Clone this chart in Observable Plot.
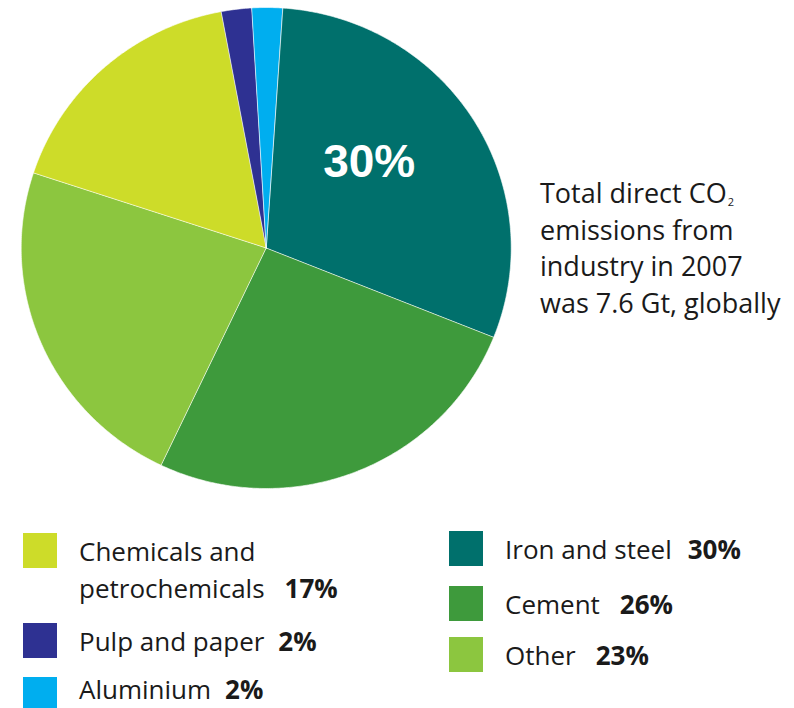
<!DOCTYPE html>
<html>
<head>
<meta charset="utf-8">
<script src="https://cdn.jsdelivr.net/npm/d3@7"></script>
<script src="https://cdn.jsdelivr.net/npm/@observablehq/plot@0.6"></script>
<style>
  html, body { margin: 0; padding: 0; background: #fff; }
  #wrap { position: relative; width: 794px; height: 708px; overflow: hidden; font-family: "Open Sans", "Lato", sans-serif; color: #1a1a1a; }
  #chart { position: absolute; left: 0; top: 0; }
  .note { position: absolute; left: 540px; top: 175px; font-size: 27px; line-height: 36.7px; white-space: nowrap; }
  .note sub { font-size: 11px; line-height: 0; vertical-align: baseline; position: relative; top: 3px; margin-left: 1px; }
  .sw { position: absolute; width: 34px; height: 35px; }
  .lab { position: absolute; font-size: 26px; line-height: 37px; }
  .lab b { font-weight: 700; }
</style>
</head>
<body>
<div id="wrap">
  <div id="chart"></div>
  <div class="note">Total direct CO<sub>2</sub><br>emissions from<br>industry in 2007<br>was 7.6 Gt, globally</div>
</div>
<script>
// ---- data ----
const categories = ["Iron and steel", "Cement", "Other", "Chemicals and petrochemicals", "Pulp and paper", "Aluminium"];
const values = [30, 26, 23, 17, 2, 2];
const colors = ["#00706c", "#3e9a3c", "#8cc63f", "#cddc29", "#2e3192", "#00aeef"];
const startAngleDeg = 3.8;
const legendLeft = ["Chemicals and petrochemicals", "Pulp and paper", "Aluminium"];
const legendRight = ["Iron and steel", "Cement", "Other"];

// ---- geometry (unit circle, data space) ----
const total = d3.sum(values);
const pts = [];
const labels = [];
let acc = 0;
categories.forEach((cat, i) => {
  const a0 = (startAngleDeg * Math.PI / 180) + acc / total * 2 * Math.PI;
  acc += values[i];
  const a1 = (startAngleDeg * Math.PI / 180) + acc / total * 2 * Math.PI;
  pts.push({cat, x: 0, y: 0});
  const n = Math.max(4, Math.ceil((a1 - a0) / (Math.PI / 360)));
  for (let k = 0; k <= n; k++) {
    const a = a0 + (a1 - a0) * k / n;
    pts.push({cat, x: Math.sin(a), y: Math.cos(a)});
  }
  const am = (a0 + a1) / 2;
  labels.push({cat, value: values[i], x: 0.55 * Math.sin(am), y: 0.55 * Math.cos(am)});
});
const maxVal = d3.max(values);

const chart = Plot.plot({
  width: 794,
  height: 520,
  margin: 0,
  style: {background: "transparent"},
  x: {domain: [-1, 1], range: [20.7, 510.7], axis: null},
  y: {domain: [-1, 1], range: [488, 7], axis: null},
  color: {domain: categories, range: colors},
  marks: [
    Plot.line(pts, {x: "x", y: "y", z: "cat", fill: "cat", stroke: "white", strokeWidth: 0.6, curve: "linear-closed"}),
    Plot.text(labels.filter(d => d.value === maxVal), {
      x: "x", y: "y", text: d => d.value + "%",
      fill: "white", fontSize: 46, fontWeight: "bold",
      fontFamily: "Liberation Sans, Arial, sans-serif",
      dx: -11, dy: -15
    })
  ]
});
document.getElementById("chart").appendChild(chart);

// ---- legend ----
const wrap = document.getElementById("wrap");
const colorOf = c => colors[categories.indexOf(c)];
const valueOf = c => values[categories.indexOf(c)];
function addItem(cat, swLeft, swTop, txtLeft, txtTop, width, gap) {
  const sw = document.createElement("div");
  sw.className = "sw";
  sw.style.left = swLeft + "px";
  sw.style.top = swTop + "px";
  sw.style.background = colorOf(cat);
  wrap.appendChild(sw);
  const lab = document.createElement("div");
  lab.className = "lab";
  lab.style.left = txtLeft + "px";
  lab.style.top = txtTop + "px";
  lab.style.width = width + "px";
  lab.innerHTML = cat + '<b style="margin-left:' + gap + 'px">' + valueOf(cat) + "%</b>";
  wrap.appendChild(lab);
}
const leftSwTops = [533, 623, 677];
const rightSwTops = [531, 586, 637];
const leftGaps = [20, 14, 14];
const rightGaps = [16, 20, 20];
const leftTxtShift = [0, 0, -6];
legendLeft.forEach((c, i) => addItem(c, 23, leftSwTops[i], 79, leftSwTops[i] + leftTxtShift[i], 310, leftGaps[i]));
legendRight.forEach((c, i) => addItem(c, 449, rightSwTops[i], 505, rightSwTops[i], 289, rightGaps[i]));
</script>
</body>
</html>
